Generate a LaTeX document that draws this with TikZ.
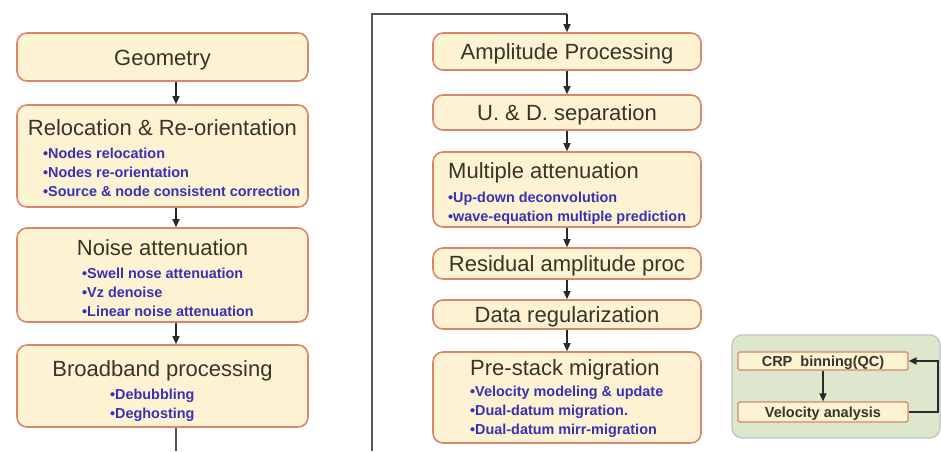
\documentclass[tikz,border=0pt]{standalone}
\usepackage{fontspec}
\setmainfont{Liberation Sans}
\usetikzlibrary{arrows.meta,calc}
\definecolor{boxfill}{HTML}{FDF3D2}
\definecolor{boxline}{HTML}{D8866C}
\definecolor{titlecol}{HTML}{35352A}
\definecolor{bulletcol}{HTML}{3A30B4}
\definecolor{panelfill}{HTML}{DDE7CD}
\definecolor{panelline}{HTML}{B8C4C8}
\definecolor{linecol}{HTML}{2A2A2A}
\tikzset{
  procbox/.style={draw=boxline, fill=boxfill, line width=1.6pt, rounded corners=10pt, inner sep=0pt},
  smallbox/.style={draw=boxline, fill=boxfill, line width=1.2pt, rounded corners=1.5pt, inner sep=0pt},
  titletext/.style={text=titlecol, font=\fontsize{22}{24}\selectfont, inner sep=0pt, text height=16pt, text depth=0pt},
  bullettext/.style={text=bulletcol, font=\fontsize{14.4}{19}\selectfont\bfseries, inner sep=0pt, align=left, anchor=north west},
  smalltext/.style={text=titlecol, font=\fontsize{14.5}{15}\selectfont\bfseries, inner sep=0pt, text height=10.5pt, text depth=0pt},
  flow/.style={draw=linecol, line width=1.3pt, -{Triangle[length=8pt,width=7pt]}},
  plainline/.style={draw=linecol!80, line width=1.6pt},
}
\begin{document}
\begin{tikzpicture}[x=1pt,y=-1pt]
\useasboundingbox (0,0) rectangle (941,451);
\fill[white] (0,0) rectangle (941,451);
\coordinate (colL) at (176,0);
\coordinate (colM) at (567,0);
\coordinate (botL) at (176,451);
\coordinate (botM) at (372,451);
\coordinate (topM) at (372,14);
% left column
\node[procbox, minimum width=291pt, minimum height=48pt] (geo) at (162.5,57) {};
\node[titletext] (geoT) at (162.5,57) {Geometry};
\node[procbox, minimum width=291pt, minimum height=102pt] (reloc) at (162.5,156) {};
\node[titletext] (relocT) at (162.5,127) {Relocation \& Re-orientation};
\node[bullettext] (relocB) at (43,148) {•Nodes relocation\\•Nodes re-orientation\\•Source \& node consistent correction};
\node[procbox, minimum width=291pt, minimum height=94pt] (noise) at (162.5,275) {};
\node[titletext] (noiseT) at (162.5,247) {Noise attenuation};
\node[bullettext] (noiseB) at (82,267.5) {•Swell nose attenuation\\•Vz denoise\\•Linear noise attenuation};
\node[procbox, minimum width=291pt, minimum height=82pt] (broad) at (162.5,386) {};
\node[titletext] (broadT) at (162.5,368) {Broadband processing};
\node[bullettext] (broadB) at (110,388.5) {•Debubbling\\•Deghosting};
% middle column
\node[procbox, minimum width=268pt, minimum height=37pt] (amp) at (567,51.5) {};
\node[titletext] (ampT) at (567,51.5) {Amplitude Processing};
\node[procbox, minimum width=268pt, minimum height=35pt] (ud) at (567,112.5) {};
\node[titletext] (udT) at (567,112.5) {U. \& D. separation};
\node[procbox, minimum width=268pt, minimum height=75pt] (mult) at (567,189.5) {};
\node[titletext, anchor=west] (multT) at (448,170) {Multiple attenuation};
\node[bullettext] (multB) at (448,191.5) {•Up-down deconvolution\\•wave-equation multiple prediction};
\node[procbox, minimum width=268pt, minimum height=31pt] (resid) at (567,263.5) {};
\node[titletext] (residT) at (567,263.5) {Residual amplitude proc};
\node[procbox, minimum width=268pt, minimum height=29pt] (datar) at (567,314.5) {};
\node[titletext] (datarT) at (567,314.5) {Data regularization};
\node[procbox, minimum width=268pt, minimum height=91pt] (pre) at (567,397.5) {};
\node[titletext, anchor=west] (preT) at (470,367) {Pre-stack migration};
\node[bullettext] (preB) at (470,386) {•Velocity modeling \& update\\•Dual-datum migration.\\•Dual-datum mirr-migration};
% right panel
\node[draw=panelline, fill=panelfill, line width=1.2pt, rounded corners=10pt, minimum width=208pt, minimum height=103pt, inner sep=0pt] (panel) at (836,386.5) {};
\node[smallbox, minimum width=170pt, minimum height=18pt] (crp) at (823,361) {};
\node[smalltext] (crpT) at (823,361) {CRP\ \ binning(QC)};
\node[smallbox, minimum width=170pt, minimum height=20pt] (vel) at (823,412) {};
\node[smalltext] (velT) at (823,412) {Velocity analysis};
\coordinate (fbR) at (938,0);
% connectors
\draw[flow] (geo.south -| colL) -- (reloc.north -| colL);
\draw[flow] (reloc.south -| colL) -- (noise.north -| colL);
\draw[flow] (noise.south -| colL) -- (broad.north -| colL);
\draw[plainline] (broad.south -| colL) -- (botL);
\draw[plainline] (botM) -- (topM) -- (topM -| colM);
\draw[flow] (topM -| colM) -- (amp.north);
\draw[flow] (amp.south) -- (ud.north);
\draw[flow] (ud.south) -- (mult.north);
\draw[flow] (mult.south) -- (resid.north);
\draw[flow] (resid.south) -- (datar.north);
\draw[flow] (datar.south) -- (pre.north);
\draw[flow] (crp.south) -- (vel.north);
\draw[flow, line width=1.8pt] (vel.east) -- (vel.east -| fbR) -- (crp.east -| fbR) -- (crp.east);
\end{tikzpicture}
\end{document}
